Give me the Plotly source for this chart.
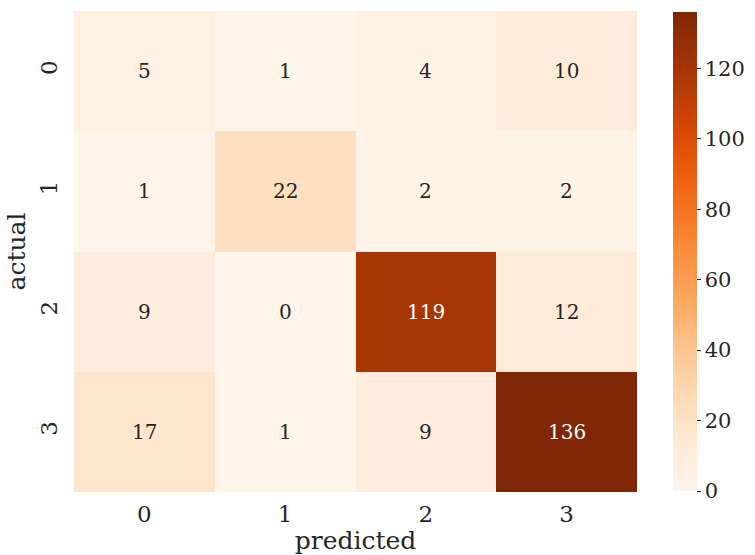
import plotly.graph_objects as go

# Confusion matrix: rows = actual class, columns = predicted class
classes = ["0", "1", "2", "3"]
counts = [
    [5, 1, 4, 10],
    [1, 22, 2, 2],
    [9, 0, 119, 12],
    [17, 1, 9, 136],
]
cbar_ticks = [0, 20, 40, 60, 80, 100, 120]

# Matplotlib "Oranges" sequential map
oranges = [
    [0.0, "#fff5eb"], [0.125, "#fee6ce"], [0.25, "#fdd0a2"], [0.375, "#fdae6b"],
    [0.5, "#fd8d3c"], [0.625, "#f16913"], [0.75, "#d94801"], [0.875, "#a63603"],
    [1.0, "#7f2704"],
]

W, H = 755, 555
zmin = 0
zmax = max(max(r) for r in counts)
font_fam = "DejaVu Serif"
ink = "#262626"

fig = go.Figure(
    go.Heatmap(
        z=counts,
        x=classes,
        y=classes,
        colorscale=oranges,
        zmin=zmin,
        zmax=zmax,
        showscale=True,
        hoverinfo="skip",
        colorbar=dict(
            xref="container", x=673 / W, xanchor="left",
            yref="paper", y=0.5, yanchor="middle",
            len=479 / 481, lenmode="fraction",
            thickness=24, outlinewidth=0, xpad=0, ypad=0,
            tickvals=cbar_ticks, tickprefix="\u2009",
            ticks="outside", ticklen=4, tickwidth=1.2, tickcolor=ink,
            tickfont=dict(family=font_fam, size=21, color=ink),
        ),
    )
)

# Cell value labels: light text on dark cells, dark text elsewhere
for i, row in enumerate(counts):
    for j, v in enumerate(row):
        frac = (v - zmin) / (zmax - zmin)
        fig.add_annotation(
            x=classes[j], y=classes[i], text=str(v), showarrow=False,
            font=dict(family=font_fam, size=20,
                      color="#ffffff" if frac > 0.6 else ink),
        )

fig.update_layout(
    width=W, height=H,
    margin=dict(l=74, r=118, t=11, b=63),
    paper_bgcolor="white", plot_bgcolor="white",
    font=dict(family=font_fam, color=ink),
    xaxis=dict(
        title=dict(text="predicted", font=dict(size=25, color=ink), standoff=7),
        tickfont=dict(size=23, color=ink), showgrid=False, zeroline=False,
        ticks="", ticklabelstandoff=6, automargin=False,
    ),
    yaxis=dict(
        title=dict(text="actual", font=dict(size=25, color=ink), standoff=3),
        tickfont=dict(size=23, color=ink), tickangle=-90,
        autorange="reversed", showgrid=False, zeroline=False, ticks="",
        ticklabelstandoff=11, automargin=False,
    ),
)

fig.write_html("out.html")
